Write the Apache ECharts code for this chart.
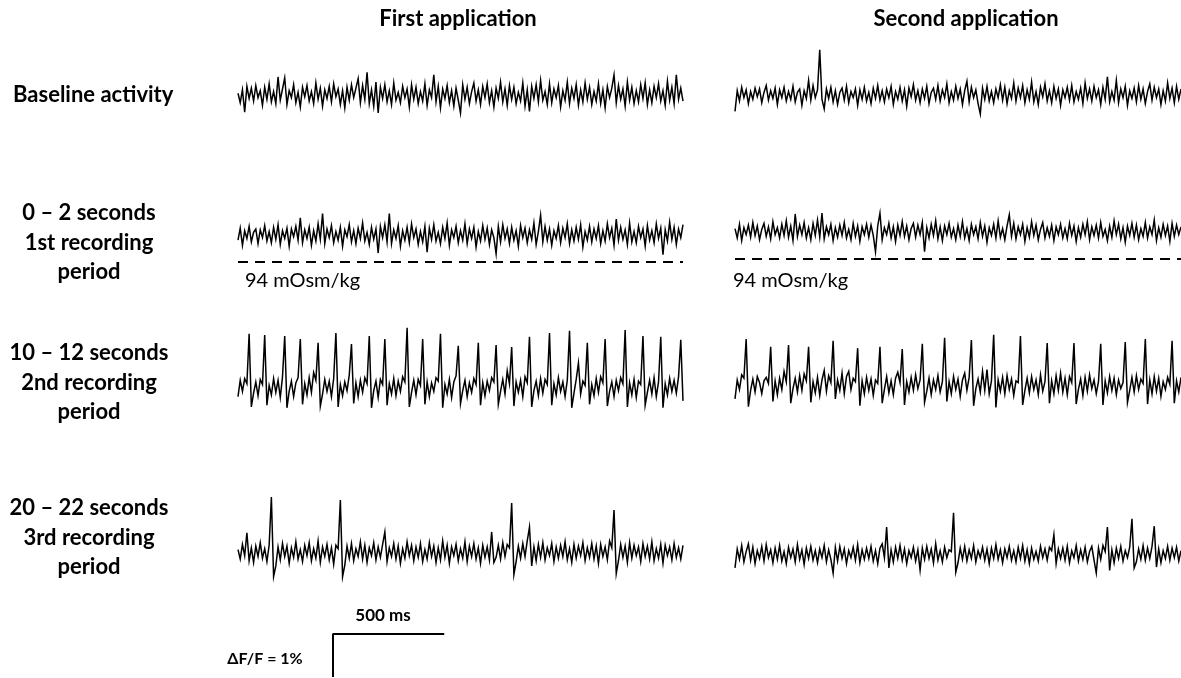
<!DOCTYPE html>
<html>
<head>
<meta charset="utf-8">
<title>Calcium imaging traces</title>
<script src="https://cdn.jsdelivr.net/npm/echarts@6/dist/echarts.min.js"></script>
<style>
html, body { margin: 0; padding: 0; background: #fff; }
#chart { width: 1181px; height: 678px; }
</style>
</head>
<body>
<div id="chart"></div>
<script>
// ΔF/F traces, one sample every 10 ms over 2 s, in hundredths of a percent
const sampleMs = 10;
const traceMs = 2000;

const baselineFirst = [
  4, -18, 12, -40, 20, -8, 16, -14, 22, -6, 10, -24, 18, -10, 26, -16, 8, -20, 42, -12,
  14, 40, -22, 10, -6, 24, -18, 6, -28, 18, -4, 22, -14, 8, -20, 28, -10, 16, -26, 12,
  -8, 20, -16, 26, -4, 14, -22, 10, -30, 18, -12, 24, -6, 16, 38, -18, 22, -10, 53, -20,
  12, -26, 30, -42, 18, -8, 24, -16, 10, -22, 28, -12, 6, -18, 20, -6, 14, -28, 24, -10,
  18, -20, 8, -14, 26, -24, 12, -6, 47, -16, 20, -30, 14, -8, 22, -18, 10, -26, 16, -12,
  -42, 24, -10, 18, -20, 8, 28, -14, 12, -22, 20, -6, 26, -18, 10, -28, 16, -8, 30, -16,
  14, -24, 22, -10, 18, -20, 6, -14, 28, -26, 12, -38, 20, -8, 24, -16, 34, -12, 8, -22,
  26, -18, 14, -6, 22, -28, 10, -12, 30, -20, 16, -8, 24, -24, 12, -16, 28, -10, 18, -22,
  8, -14, 26, -20, 12, -30, 20, -6, 16, 47, -18, 22, -10, 14, -26, 30, -12, 18, -20, 10,
  -16, 24, -8, 28, -22, 12, -18, 20, -6, 26, -14, 10, -24, 32, -12, 18, -20, 47, -10, 16,
  -14
];
const baselineSecond = [
  -38, 10, -14, 18, -6, 12, -20, 8, -10, 16, -4, 14, -18, 6, 22, -12, 10, -8, 16, -22,
  12, -6, 18, -14, 8, -10, 20, -16, 6, 14, -24, 10, -8, 34, -12, 22, -6, 12, 105, -10,
  -32, 14, -8, 18, -16, 10, -22, 6, 16, -12, 20, -18, 8, -6, 14, -24, 12, -10, 18, -14,
  6, -20, 16, -8, 22, -12, 10, -16, 14, -6, 20, -22, 8, -10, 18, -14, 12, -26, 16, -4,
  24, -12, 10, -18, 14, -8, 20, -20, 6, 16, -10, 22, -14, 12, -6, 26, -18, 8, -12, 20,
  -8, 14, -22, 10, 32, -16, 18, -6, 12, -20, -44, 16, -10, 20, -14, 8, -18, 14, -6, 24,
  -12, 18, -20, 10, -8, 28, -14, 16, -6, 22, -18, 12, -10, 30, -16, 8, -22, 18, -4, 26,
  -14, 10, -18, 20, -8, 14, -24, 12, -6, 18, -12, 22, -16, 8, -10, 16, -20, 28, -8, 14,
  -14, 20, -6, 12, -22, 18, -10, 42, -16, 8, -12, 34, -18, 14, -6, 20, -24, 10, -8, 16,
  -16, 22, -10, 14, -20, 8, 26, -12, 18, -6, 14, -22, 10, -14, 28, -8, 16, -18, 20, -10,
  14
];
const period1First = [
  -12, 16, -24, 10, -8, 20, -16, 6, 14, -20, 12, -6, 22, -14, 8, -18, 18, -10, 24, -22,
  10, -8, 16, -26, 14, -4, 20, -12, 40, -18, 12, -8, 18, -24, 10, -14, 26, -10, 50, -20,
  14, -6, 22, -18, 8, -12, 18, -26, 12, -4, 24, -16, 10, -20, 16, -8, 28, -14, 6, -22,
  18, -10, 14, -42, 20, -6, 24, -16, 50, -20, 12, -8, 22, -26, 10, -12, 18, -18, 26, -6,
  14, -22, 8, -16, 20, -40, 16, -10, 24, -14, 6, -20, 18, -8, 28, -24, 12, -6, 20, -18,
  10, -12, 26, -20, 14, -8, 18, -28, 8, -14, 22, -10, 16, -22, 12, -6, -44, 20, -16, 24,
  -8, 14, -20, 18, -12, 10, -26, 22, -6, 16, -18, 12, -10, 28, -22, 8, 46, -16, 20, -12,
  14, -24, 10, -8, 22, -18, 16, -6, 26, -20, 12, -14, 18, -10, 24, -28, 8, -12, 20, -16,
  14, -8, 22, -20, 10, -14, 26, -6, 16, -24, 37, -12, 18, -10, 12, -22, 28, -16, 8, -18,
  20, -6, 14, -26, 22, -12, 10, -18, 26, -8, 16, -46, 12, -14, 30, -10, 18, -22, 14, -6,
  24
];
const period1Second = [
  8, -14, 18, -20, 10, -6, 16, -12, 22, -8, 14, -18, 6, 20, -10, 12, -16, 24, -6, 10,
  -14, 18, -8, 26, -12, 14, -20, 42, -10, 16, -6, 22, -14, 10, -18, 20, -8, 28, -12, 44,
  -16, 12, -6, 18, -20, 10, -12, 16, -8, 22, -14, 6, -18, 20, -10, 14, -22, 12, -6, 18,
  -12, 16, -8, -46, 14, 44, -18, 10, -6, 20, -14, 12, -22, 16, -8, 24, -10, 14, -18, 8,
  20, -12, 16, -6, 22, -46, 10, -14, 18, -8, 26, -16, 12, -20, 14, -6, 20, -12, 8, -18,
  16, -10, 24, -14, 8, -20, 18, -6, 12, -16, 22, -10, 14, -24, 10, -8, 18, -14, 26, -12,
  8, -18, 14, 40, -10, 20, -16, 12, -6, 18, -22, 10, -12, 24, -8, 16, -18, 6, 22, -14,
  10, -10, 16, -20, 12, -6, 18, -14, 8, -16, 20, -8, 14, -22, 10, -12, 18, -6, 24, -18,
  12, -8, 16, -14, 22, -10, 6, -20, 14, -12, 26, -6, 18, -16, 10, -24, 14, -8, 20, -12,
  16, -18, 8, -10, 22, -14, 12, -6, 28, -20, 10, -12, 18, -8, 14, -22, 20, -10, 16, -6,
  12
];
const period2First = [
  -20, 18, -8, 22, 10, 126, -44, -12, 14, -18, 20, 8, 123, -40, 6, -16, 22, -10, 18, -22,
  26, 121, -46, -8, 16, -20, 12, 24, 114, -38, 10, -16, 24, -10, 36, 18, 105, -42, -14, 20,
  -8, 16, -20, 22, 128, -44, 8, -18, 14, -6, 30, 102, -36, 12, -20, 18, -10, 24, 10, 121,
  -46, -6, 16, -22, 20, 8, 114, -40, 10, -14, 22, -18, 16, -8, 26, 14, 140, -44, -10, 18,
  -16, 20, 6, 114, -38, 14, -20, 12, -8, 24, 16, 126, -46, 8, -14, 20, -22, 14, 28, 98,
  -36, -6, 18, -20, 12, -10, 22, 8, 105, -40, 12, -18, 16, -6, 24, 14, 100, -38, -8, 20,
  -14, 40, 10, 95, -42, 14, -10, 18, -20, 26, 12, 119, -44, -6, 16, -18, 22, -12, 20, 8,
  128, -40, 10, -16, 24, -8, 14, -20, 18, 133, -46, -12, 20, 58, -14, 16, 6, 105, -38, 8,
  -18, 22, -10, 26, 12, 114, -42, -8, 14, -20, 18, -6, 24, 10, 135, -44, 12, -16, 20, -22,
  16, 8, 121, -40, -10, 18, -14, 24, -20, 14, 119, -46, 10, -16, 22, -8, 18, -12, 26, 112,
  -30
];
const period2Second = [
  -30, 14, -8, 26, 18, 109, -48, -10, 16, -14, 22, 8, -18, 12, 20, 6, 91, -36, 12, -20,
  18, -8, 34, 10, 95, -40, -6, 18, -14, 24, -10, 28, 12, 91, -38, 10, -16, 20, -22, 14,
  36, -12, 24, 8, 105, -30, 14, -10, 30, -18, 22, 34, -8, 18, 10, 88, -46, 12, -18, 20,
  -10, 16, -22, 14, 6, 91, -40, -8, 22, -16, 12, -20, 18, 32, 8, 86, -44, 10, -14, 20,
  -10, 26, -6, 14, 98, -38, -12, 18, -20, 14, -8, 24, -14, 10, 112, -36, 10, -18, 22, -8,
  16, -24, 14, 30, -10, 20, 107, -46, -6, 16, -14, 34, -10, 38, -18, 12, 119, -50, 14, -12,
  20, -18, 24, -8, 16, -22, 12, 8, 116, -44, -10, 18, -16, 22, -8, 14, -20, 26, -12, 10,
  100, -40, 12, -18, 24, -10, 30, -14, 18, -20, 22, 8, 100, -42, -8, 16, -22, 20, -12, 26,
  -6, 14, -18, 10, 98, -44, 12, -16, 22, -10, 18, -20, 14, -6, 8, 102, -38, -10, 20, -14,
  24, -8, 16, 6, 109, -42, 14, -18, 22, -12, 18, -24, 10, -8, 20, 4, 105, -40, 12, -14,
  20
];
const period3First = [
  8, -14, 20, -6, 47, -18, 12, -22, 16, -8, 24, -12, 10, -20, 18, 130, -55, -30, 14, -16,
  22, -8, 16, -24, 12, -10, 26, -14, 8, -20, 18, -6, 24, -18, 10, -12, 28, -22, 14, -8,
  20, -16, 12, -26, 18, 10, 123, -55, -28, 16, -12, 22, -18, 10, -8, 26, -14, 18, -22, 12,
  -6, 24, -16, 14, -10, 20, 49, -20, 12, -8, 22, -14, 16, -24, 10, -12, 26, -6, 18, -18,
  14, -10, 22, -20, 8, -14, 24, -8, 16, -22, 12, -16, 28, -10, 18, -24, 14, -6, 20, -18,
  10, -12, 26, -20, 16, -8, 22, -14, 12, -24, 18, -10, 14, -16, 49, -22, -10, 18, -14, 24,
  -8, 20, 12, 116, -50, -20, 16, -12, 22, -8, 28, 60, -30, 14, -18, 20, -10, 24, -16, 12,
  -6, 22, -20, 14, -12, 18, -8, 26, -16, 10, -22, 20, -12, 16, -6, 24, -18, 12, -10, 22,
  -14, 16, -24, 20, -8, 14, -16, 28, 12, 100, -48, -18, 20, -10, 16, -22, 24, -12, 18, -6,
  14, -20, 22, -8, 16, -14, 26, -18, 10, -12, 20, -24, 18, -6, 14, -16, 22, -10, 12, -14,
  18
];
const period3Second = [
  -30, 14, -10, 22, -16, 8, 26, -12, 18, -20, 10, -8, 20, -14, 24, -6, 12, -18, 16, -10,
  22, -14, 8, -20, 18, -6, 14, -16, 24, -10, 12, -22, 16, -8, 20, -12, 10, -18, 14, -6,
  22, -16, 12, -10, -42, 18, -14, 20, -8, 14, -20, 10, -6, 18, -12, 24, -18, 12, -10, 16,
  -8, 20, -14, 10, -20, 16, 26, -6, 65, -30, 12, -16, 18, -8, 22, -12, 14, -20, 10, -6,
  18, -14, 12, -35, 16, -10, 20, -8, 14, -18, 26, -12, 10, -16, 18, -6, 12, 8, 98, -40,
  -18, 16, -10, 20, -14, 12, -8, 22, -16, 10, -6, 18, -12, 14, -20, 16, -8, 24, -10, 12,
  -18, 14, -6, 20, -12, 10, -16, 18, -8, 22, -14, 12, -20, 16, -10, 8, -14, 20, -6, 14,
  -12, 18, 10, 47, -20, 14, -8, 16, -12, 20, -18, 10, -6, 22, -14, 12, -10, 18, -16, 8,
  20, -12, -42, 16, -10, 22, 8, 65, -36, 12, -18, 16, -8, 20, -14, 10, -6, 18, 84, -30,
  -16, 14, -10, 22, -12, 16, -8, 20, 67, -28, 14, -18, 10, -8, 20, -12, 16, -6, 18, -14,
  10
];

const columnTitles = ['First application', 'Second application'];
const rowLabels = [
  ['Baseline activity'],
  ['0 – 2 seconds', '1st recording', 'period'],
  ['10 – 12 seconds', '2nd recording', 'period'],
  ['20 – 22 seconds', '3rd recording', 'period']
];
const stimulusLabel = '94 mOsm/kg';
const stimulusLevel = -0.63; // % ΔF/F, where the dashed marker sits under row 2
const scaleBarMs = 500;
const scaleBarPct = 1;

const traces = [
  [baselineFirst, baselineSecond],
  [period1First, period1Second],
  [period2First, period2Second],
  [period3First, period3Second]
];

// layout (pixels)
const pxPerPct = 43;
const yMin = -1.2, yMax = 1.6;
const columnLeft = [238, 735];
const columnWidth = [445, 446];
const rowCenter = [[95, 95], [235, 232], [388, 386], [553, 555]];

const grid = [], xAxis = [], yAxis = [], series = [];
traces.forEach((row, r) => {
  row.forEach((values, c) => {
    const idx = grid.length;
    grid.push({
      left: columnLeft[c],
      width: columnWidth[c],
      top: rowCenter[r][c] - yMax * pxPerPct,
      height: (yMax - yMin) * pxPerPct
    });
    xAxis.push({ gridIndex: idx, type: 'value', min: 0, max: traceMs, show: false });
    yAxis.push({ gridIndex: idx, type: 'value', min: yMin, max: yMax, show: false });
    const s = {
      type: 'line',
      xAxisIndex: idx,
      yAxisIndex: idx,
      data: values.map((v, i) => [i * sampleMs, v / 100]),
      showSymbol: false,
      symbol: 'none',
      lineStyle: { color: '#000', width: 1.5, join: 'miter' },
      silent: true
    };
    if (r === 1) {
      s.markLine = {
        silent: true,
        symbol: 'none',
        label: { show: false },
        lineStyle: { color: '#000', width: 2, type: [10, 7] },
        data: [{ yAxis: stimulusLevel }]
      };
    }
    series.push(s);
  });
});

// scale bar: 500 ms horizontal, 1 % ΔF/F vertical
const sbIdx = grid.length;
grid.push({ left: 333, width: 445, top: 634, height: scaleBarPct * pxPerPct });
xAxis.push({ gridIndex: sbIdx, type: 'value', min: 0, max: traceMs, show: false });
yAxis.push({ gridIndex: sbIdx, type: 'value', min: -scaleBarPct, max: 0, show: false });
series.push({
  type: 'line',
  xAxisIndex: sbIdx,
  yAxisIndex: sbIdx,
  data: [[scaleBarMs, 0], [0, 0], [0, -scaleBarPct]],
  showSymbol: false,
  symbol: 'none',
  clip: false,
  lineStyle: { color: '#000', width: 2 },
  silent: true
});

const boldFont = 'bold 22px Lato';
const graphic = [];
const titleX = [458, 966];
columnTitles.forEach((t, c) => {
  graphic.push({ type: 'text', x: titleX[c], y: 19,
    style: { text: t, font: 'bold 22px Lato', fill: '#000', textAlign: 'center', textVerticalAlign: 'middle' } });
});
graphic.push({ type: 'text', x: 13, y: 95,
  style: { text: rowLabels[0][0], font: boldFont, fill: '#000', textAlign: 'left', textVerticalAlign: 'middle' } });
const labelTops = [null, 213, 353, 508];
for (let r = 1; r < rowLabels.length; r++) {
  rowLabels[r].forEach((line, k) => {
    graphic.push({ type: 'text', x: 89, y: labelTops[r] + k * 29.5,
      style: { text: line, font: boldFont, fill: '#000', textAlign: 'center', textVerticalAlign: 'middle' } });
  });
}
[245, 733].forEach(x => {
  graphic.push({ type: 'text', x: x, y: 281,
    style: { text: stimulusLabel, font: '20px Lato', fill: '#000', textAlign: 'left', textVerticalAlign: 'middle' } });
});
graphic.push({ type: 'text', x: 383, y: 616,
  style: { text: scaleBarMs + ' ms', font: 'bold 17px Lato', fill: '#000', textAlign: 'center', textVerticalAlign: 'middle' } });
graphic.push({ type: 'text', x: 265, y: 659,
  style: { text: 'ΔF/F = ' + scaleBarPct + '%', font: 'bold 16px Lato', fill: '#000', textAlign: 'center', textVerticalAlign: 'middle' } });

const chart = echarts.init(document.getElementById('chart'));
chart.setOption({
  animation: false,
  backgroundColor: '#fff',
  grid: grid,
  xAxis: xAxis,
  yAxis: yAxis,
  series: series,
  graphic: graphic
});
</script>
</body>
</html>
